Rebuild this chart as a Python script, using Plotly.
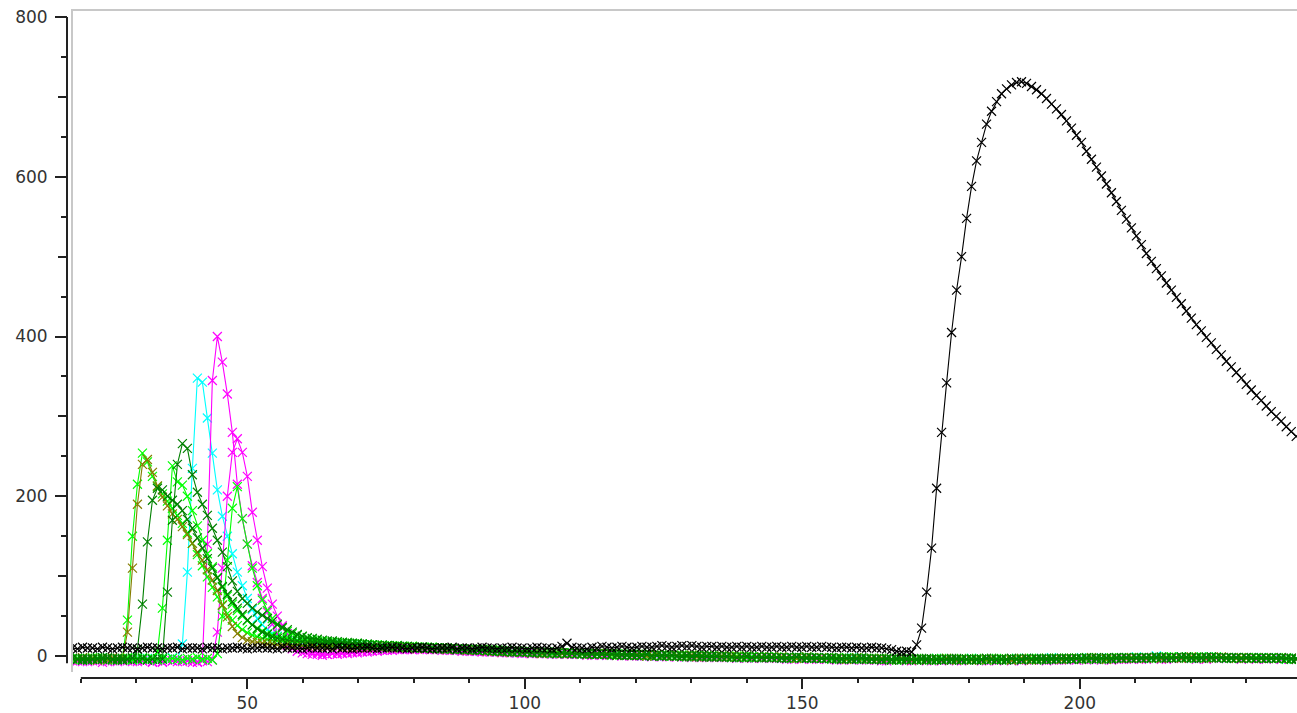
import plotly.graph_objects as go

# ---- sample grid (acquisition times) ----
SAMPLE_START = 18.5
SAMPLE_STEP = 0.9
N_SAMPLES = 246
sample_x = [round(SAMPLE_START + SAMPLE_STEP * i, 2) for i in range(N_SAMPLES)]

# ---- series values ----
olive_head = [-3, -4, -2, -4, -3, -5, -3, -4, -2, -3, -4,
              30, 110, 190, 240, 246, 230, 213, 199, 188, 178, 171, 162, 152, 141, 130, 120, 108, 95, 82,
              64, 49, 37, 28, 23, 20, 18, 17, 16, 15, 15,
              14, 14, 15, 13, 14, 13, 13, 14, 12, 13, 12, 13, 12, 11, 12, 11, 11, 12, 10, 11]
olive_tail = [12, 11, 12, 10, 11, 11, 10, 11, 9, 10,
              10, 9, 9, 10, 8, 9, 8, 9, 7, 8,
              7, 8, 6, 7, 6, 5, 6, 5, 6, 5,
              5, 4, 5, 3, 4, 5, 4, 3, 4, 3,
              4, 3, 2, 3, 3, 2, 3, 2, 1, 2,
              2, 1, 2, 1, 0, 1, 2, 1, 0, 1,
              1, 0, 0, 1, -1, 0, 0, -1, 0, 0,
              -1, 0, -1, -1, 0, -2, -1, -1, -2, -1,
              -2, -1, -2, -2, -3, -2, -1, -2, -3, -2,
              -3, -2, -3, -3, -4, -3, -2, -3, -4, -3,
              -4, -3, -4, -5, -4, -3, -4, -5, -4, -4,
              -5, -4, -4, -5, -3, -4, -5, -4, -4, -5,
              -4, -5, -4, -3, -5, -4, -4, -5, -4, -3,
              -4, -5, -4, -4, -3, -4, -3, -4, -3, -3,
              -3, -4, -3, -2, -3, -3, -4, -3, -2, -3,
              -3, -2, -3, -2, -3, -2, -2, -3, -2, -2,
              -2, -3, -2, -1, -2, -2, -3, -2, -2, -1,
              -2, -2, -3, -2, -3, -2, -3, -3, -2, -3,
              -3, -2, -3, -3, -4]

lime1_head = [-4, -3, -5, -3, -4, -2, -4, -3, -5, -4, -3,
              45, 150, 215, 254, 243, 225, 212, 203, 194, 185, 176, 166, 154, 141, 127, 113, 99, 86, 74,
              63, 53, 45, 38, 33, 29, 26, 24, 22, 21, 20,
              19, 19, 18, 18, 17, 18, 17, 16, 17, 16, 16, 15, 16, 15, 14, 15, 14, 14, 13, 13]
lime1_tail = [13, 13, 12, 13, 12, 12, 11, 12, 11, 11,
              10, 11, 10, 10, 9, 10, 9, 9, 8, 9,
              8, 8, 7, 8, 7, 6, 7, 6, 6, 5,
              6, 5, 5, 4, 5, 4, 5, 4, 3, 4,
              4, 3, 3, 4, 2, 3, 3, 2, 3, 2,
              2, 1, 2, 2, 1, 1, 2, 0, 1, 1,
              0, 1, 0, 1, 0, -1, 0, 0, -1, 0,
              -1, -1, 0, -2, -1, -1, -2, -1, -1, -2,
              -2, -1, -2, -3, -2, -2, -1, -3, -2, -3,
              -3, -2, -3, -4, -3, -3, -2, -4, -3, -3,
              -4, -4, -3, -4, -5, -4, -3, -4, -4, -5,
              -4, -5, -3, -4, -4, -5, -4, -3, -5, -4,
              -5, -4, -4, -3, -4, -5, -4, -4, -3, -4,
              -4, -3, -5, -4, -3, -4, -4, -3, -4, -3,
              -3, -3, -4, -3, -2, -3, -4, -3, -3, -2,
              -3, -2, -2, -3, -2, -3, -2, -2, -1, -2,
              -2, -1, -2, -2, -3, -1, -2, -2, -1, -2,
              -2, -3, -2, -2, -3, -2, -2, -3, -3, -2,
              -3, -3, -2, -4, -3]

dgreen1_head = [-3, -4, -3, -5, -4, -3, -4, -2, -4, -3, -5, -4, -3,
                8, 65, 143, 195, 210, 208, 200, 195, 190, 182, 171, 160, 148, 135, 122, 110, 98,
                87, 77, 68, 60, 52, 45, 39, 34, 30, 27, 24,
                22, 21, 20, 19, 19, 18, 17, 18, 17, 16, 16, 17, 15, 16, 15, 14, 15, 14, 13, 14]
dgreen1_tail = [13, 12, 13, 12, 12, 11, 12, 11, 10, 11,
                10, 10, 9, 10, 9, 9, 8, 9, 8, 8,
                7, 8, 7, 7, 6, 6, 7, 5, 6, 5,
                5, 5, 4, 5, 4, 4, 3, 4, 4, 3,
                3, 4, 3, 2, 3, 2, 2, 3, 1, 2,
                1, 2, 1, 1, 2, 0, 1, 1, 0, 1,
                0, 0, 1, -1, 0, 0, -1, 0, -1, -1,
                0, -1, -2, -1, -1, -2, -1, -2, -2, -1,
                -2, -2, -3, -2, -1, -2, -3, -2, -3, -3,
                -2, -3, -4, -3, -3, -4, -3, -2, -4, -4,
                -3, -5, -4, -4, -3, -4, -5, -4, -4, -3,
                -5, -4, -4, -5, -4, -3, -4, -5, -4, -4,
                -4, -5, -3, -4, -4, -4, -5, -3, -4, -5,
                -3, -4, -4, -3, -5, -3, -4, -3, -3, -4,
                -3, -4, -3, -3, -2, -3, -3, -4, -2, -3,
                -2, -3, -3, -2, -2, -3, -2, -1, -2, -3,
                -2, -2, -1, -3, -2, -2, -1, -2, -2, -2,
                -3, -2, -2, -3, -2, -3, -3, -2, -3, -3,
                -2, -3, -3, -3, -4]

lime2_head = [-4, -3, -4, -5, -3, -4, -2, -4, -3, -4, -5, -3, -4, -3, -2, -4, -3,
              5, 60, 145, 238, 218, 214, 200, 182, 163, 145, 128, 112, 98,
              86, 75, 65, 57, 50, 44, 39, 35, 31, 28, 26,
              24, 23, 22, 21, 20, 20, 19, 19, 18, 18, 17, 17, 16, 17, 16, 15, 16, 15, 14, 14]
lime2_tail = [14, 13, 13, 12, 13, 12, 11, 12, 11, 10,
              11, 10, 10, 9, 10, 9, 8, 9, 8, 8,
              7, 8, 7, 6, 7, 6, 6, 5, 6, 5,
              5, 4, 5, 4, 5, 4, 3, 4, 4, 3,
              3, 3, 2, 3, 3, 2, 2, 2, 1, 2,
              2, 1, 1, 2, 1, 0, 1, 1, 1, 0,
              1, 0, 0, -1, 0, 1, -1, 0, 0, -1,
              -1, 0, -1, -1, -2, -1, -1, -2, -1, -2,
              -1, -2, -2, -3, -2, -2, -3, -2, -2, -3,
              -3, -3, -2, -3, -4, -3, -3, -4, -3, -4,
              -4, -3, -4, -4, -5, -3, -4, -4, -5, -4,
              -4, -4, -5, -4, -3, -4, -5, -4, -4, -5,
              -3, -4, -5, -4, -4, -3, -4, -5, -4, -3,
              -4, -4, -3, -4, -4, -3, -3, -4, -3, -4,
              -3, -3, -2, -3, -3, -4, -3, -2, -3, -3,
              -2, -3, -2, -2, -3, -2, -2, -3, -2, -1,
              -2, -2, -3, -2, -1, -2, -2, -3, -2, -2,
              -3, -2, -3, -2, -2, -3, -2, -3, -3, -2,
              -3, -3, -4, -3, -3]

dgreen2_head = [-3, -4, -5, -3, -4, -4, -2, -3, -4, -5, -3, -4, -2, -4, -3, -5, -4, -3, -4,
                80, 170, 240, 266, 260, 227, 205, 190, 176, 160, 145,
                130, 112, 94, 81, 72, 66, 60, 55, 51, 47, 43,
                39, 36, 33, 30, 27, 25, 23, 22, 21, 20, 19, 19, 18, 17, 17, 16, 16, 15, 15, 14]
dgreen2_tail = [13, 14, 13, 12, 13, 12, 12, 11, 11, 10,
                11, 10, 9, 10, 9, 9, 8, 8, 9, 7,
                8, 7, 7, 6, 7, 6, 5, 6, 5, 6,
                5, 4, 5, 4, 4, 5, 3, 4, 3, 4,
                3, 3, 2, 3, 2, 3, 2, 2, 2, 1,
                2, 1, 1, 1, 2, 0, 1, 0, 1, 1,
                0, -1, 0, 0, 1, -1, 0, -1, 0, -1,
                -1, -1, -2, -1, 0, -2, -1, -2, -1, -2,
                -2, -3, -2, -2, -1, -3, -2, -3, -2, -3,
                -3, -2, -3, -4, -3, -3, -4, -3, -3, -4,
                -4, -4, -3, -5, -4, -4, -3, -4, -5, -4,
                -3, -4, -5, -4, -4, -5, -3, -4, -4, -4,
                -5, -4, -3, -4, -5, -4, -4, -3, -4, -4,
                -3, -4, -3, -4, -3, -4, -3, -3, -4, -3,
                -3, -3, -2, -3, -4, -3, -2, -3, -3, -2,
                -2, -3, -2, -3, -2, -2, -1, -2, -3, -2,
                -2, -1, -2, -2, -2, -3, -2, -1, -2, -2,
                -2, -3, -2, -3, -2, -2, -3, -3, -2, -3,
                -3, -2, -3, -4, -3]

cyan_head = [-4, -3, -5, -4, -3, -4, -2, -5, -3, -4, -4, -3, -5, -2, -4, -3, -4, -5, -3, -4, -2, -4,
             15, 105, 235, 348, 343, 298, 254, 208,
             175, 150, 128, 105, 88, 72, 58, 47, 39, 33, 28,
             25, 22, 20, 19, 18, 17, 17, 16, 16, 15, 16, 15, 14, 15, 14, 13, 14, 13, 12, 13]
cyan_tail = [12, 12, 11, 12, 11, 10, 11, 10, 10, 9,
             10, 9, 9, 8, 9, 8, 7, 8, 7, 7,
             6, 7, 6, 6, 5, 6, 5, 5, 4, 5,
             4, 5, 4, 4, 3, 4, 3, 4, 3, 3,
             2, 3, 3, 2, 2, 3, 1, 2, 2, 1,
             1, 2, 1, 0, 1, 1, 0, 1, 0, 0,
             1, 0, -1, 0, 0, -1, 0, -1, -1, 0,
             -1, -2, -1, -1, -2, -1, -2, -1, -2, -2,
             -2, -3, -2, -2, -3, -2, -1, -3, -2, -3,
             -3, -2, -4, -3, -3, -2, -4, -3, -4, -3,
             -4, -3, -4, -5, -4, -3, -4, -5, -4, -4,
             -5, -4, -3, -4, -5, -4, -4, -5, -4, -3,
             -4, -5, -4, -3, -4, -4, -5, -4, -3, -4,
             -3, -4, -4, -3, -4, -2, -4, -3, -3, -4,
             -3, -2, -3, -3, -4, -2, -3, -3, -2, -3,
             -2, -3, -1, -2, -2, -3, 0, -2, -1, -2,
             -2, -1, -2, -3, -2, -1, -2, -2, -1, -2,
             -3, -2, -2, -3, -3, -2, -3, -2, -3, -3,
             -2, -3, -4, -3, -3]

magenta1_head = [-5, -6, -4, -7, -5, -6, -5, -7, -6, -5, -4, -6, -7, -5, -6, -5, -7, -6, -8, -5, -6, -7, -5, -6, -8, -7, -5,
                 140, 345, 400, 368, 328, 280, 215, 172, 140, 113, 92, 72, 55, 40,
                 28, 19, 13, 9, 6, 4, 3, 2, 2, 1, 2, 3, 2, 4, 3, 5, 4, 6, 5, 7]
magenta1_tail = [7, 8, 7, 8, 9, 8, 9, 8, 9, 8,
                 8, 9, 8, 8, 7, 8, 7, 7, 6, 7,
                 6, 6, 5, 6, 5, 5, 4, 5, 4, 4,
                 4, 3, 4, 3, 3, 4, 2, 3, 3, 2,
                 2, 3, 2, 1, 2, 2, 1, 2, 1, 1,
                 1, 0, 1, 1, 0, 0, 1, -1, 0, 0,
                 -1, 0, -1, 0, -1, -2, -1, -1, 0, -2,
                 -1, -2, -2, -1, -3, -2, -2, -3, -2, -2,
                 -3, -3, -2, -4, -3, -3, -2, -4, -3, -3,
                 -4, -3, -4, -5, -3, -4, -4, -5, -4, -4,
                 -5, -4, -6, -4, -5, -5, -4, -6, -5, -4,
                 -5, -6, -4, -5, -5, -4, -6, -5, -5, -4,
                 -5, -4, -6, -5, -4, -5, -5, -6, -4, -5,
                 -4, -5, -5, -4, -6, -4, -5, -4, -5, -4,
                 -4, -3, -5, -4, -4, -3, -4, -5, -3, -4,
                 -3, -4, -3, -3, -4, -2, -3, -4, -3, -3,
                 -2, -3, -3, -2, -4, -3, -2, -3, -3, -2,
                 -3, -3, -2, -4, -3, -3, -2, -3, -4, -3,
                 -3, -4, -3, -3, -4]

lime3_head = [-4, -3, -5, -4, -2, -4, -3, -5, -4, -3, -4, -2, -5, -3, -4, -4, -3, -5, -2, -4, -3, -4, -5, -3, -4, -2, -4, -3, -5, 3,
              50, 120, 185, 212, 172, 140, 110, 88, 70, 57, 47,
              40, 35, 31, 28, 26, 24, 22, 21, 20, 19, 18, 18, 17, 17, 16, 16, 15, 15, 14, 14]
lime3_tail = [14, 13, 13, 12, 13, 12, 11, 12, 11, 11,
              10, 11, 10, 9, 10, 9, 9, 8, 9, 8,
              7, 8, 7, 7, 6, 7, 6, 5, 6, 5,
              5, 5, 4, 5, 4, 3, 4, 4, 3, 4,
              3, 2, 3, 3, 2, 2, 3, 1, 2, 2,
              1, 2, 1, 1, 0, 1, 1, 0, 1, 0,
              0, 1, -1, 0, 0, -1, 0, -1, 0, -1,
              -1, -2, -1, -1, -2, -1, -2, -2, -1, -2,
              -2, -2, -3, -2, -3, -2, -2, -3, -3, -2,
              -3, -4, -3, -3, -2, -4, -3, -3, -4, -3,
              -4, -3, -4, -4, -3, -5, -4, -4, -3, -4,
              -4, -5, -4, -3, -4, -4, -5, -4, -4, -3,
              -4, -4, -5, -4, -3, -4, -4, -5, -4, -4,
              -4, -3, -4, -4, -3, -4, -3, -4, -3, -3,
              -3, -4, -3, -2, -3, -3, -4, -3, -2, -3,
              -3, -2, -2, -3, -2, -2, -3, -2, -2, -1,
              -2, -2, -1, -2, -3, -2, -2, -1, -2, -2,
              -2, -3, -2, -3, -2, -3, -2, -2, -3, -3,
              -3, -2, -3, -3, -4]

magenta2_head = [-6, -5, -7, -4, -6, -5, -8, -6, -5, -7, -6, -4, -5, -7, -6, -5, -8, -6, -7, -5, -6, -4, -7, -6, -5, -8, -6, -7, -5,
                 30, 110, 200, 255, 272, 255, 225, 180, 145, 112, 85, 65,
                 50, 38, 28, 20, 14, 10, 7, 5, 4, 3, 2, 3, 4, 3, 5, 4, 6, 5, 7, 6]
magenta2_tail = [6, 7, 8, 7, 8, 9, 8, 8, 9, 8,
                 9, 8, 8, 7, 8, 7, 7, 6, 7, 6,
                 6, 5, 6, 5, 5, 4, 5, 4, 4, 3,
                 4, 3, 3, 4, 3, 2, 3, 3, 2, 2,
                 3, 2, 1, 2, 2, 1, 1, 2, 1, 0,
                 1, 1, 0, 0, 1, -1, 0, 0, -1, 0,
                 -1, -1, 0, -2, -1, -1, -2, -1, -2, -1,
                 -2, -2, -3, -2, -2, -3, -2, -3, -2, -3,
                 -3, -2, -4, -3, -3, -4, -3, -3, -4, -3,
                 -4, -4, -5, -3, -4, -5, -4, -4, -5, -4,
                 -5, -6, -4, -5, -5, -4, -6, -5, -4, -5,
                 -6, -5, -4, -6, -5, -5, -4, -6, -5, -5,
                 -4, -6, -5, -5, -6, -4, -5, -5, -4, -6,
                 -5, -4, -5, -5, -4, -5, -4, -5, -4, -4,
                 -5, -4, -3, -4, -4, -5, -3, -4, -4, -3,
                 -4, -3, -3, -4, -3, -2, -3, -3, -4, -2,
                 -3, -3, -2, -3, -3, -2, -4, -3, -2, -3,
                 -3, -2, -3, -3, -2, -3, -4, -3, -3, -2,
                 -3, -4, -3, -3, -4]

black_base = [10, 9, 11, 10, 10, 9, 11, 10, 9, 10,
              11, 10, 10, 9, 10, 11, 10, 10, 9, 10,
              10, 11, 9, 10, 10, 10, 9, 11, 10, 10,
              9, 10, 10, 11, 10, 9, 10, 10, 11, 10,
              10, 9, 11, 10, 10, 10, 9, 10, 11, 10,
              10, 10, 9, 11, 10, 10, 9, 10, 10, 11,
              10, 9, 10, 10, 11, 10, 10, 9, 10, 10,
              11, 10, 9, 10, 10, 10, 11, 9, 10, 10,
              9, 10, 11, 10, 10, 9, 10, 10, 11, 10,
              10, 9, 10, 11, 10, 10, 9, 10, 12, 16,
              11, 10, 10, 9, 11, 10, 12, 11, 10, 11,
              12, 11, 10, 11, 12, 11, 11, 12, 13, 12,
              11, 12, 13, 12, 13, 12, 11, 12, 12, 11,
              12, 11, 11, 12, 11, 12, 11, 11, 12, 11,
              11, 12, 11, 11, 12, 11, 11, 12, 11, 11,
              12, 11, 11, 10, 11, 11, 10, 11, 10, 10,
              11, 10, 10, 9, 8, 6, 5, 6, 5]
black_peak = [14, 35, 80, 135, 210, 280, 342, 405, 458, 500, 548, 588, 620, 643, 666, 682, 694, 704, 710, 715,
              718, 719, 717, 713, 709,
              704, 698, 691, 685, 678, 670, 661, 652, 643, 632,
              622, 612, 601, 591, 580, 569, 558, 547, 536, 526,
              515, 504, 494, 485, 476, 467, 458, 449, 441, 432,
              423, 415, 407, 399, 392, 384, 377, 369, 362, 355,
              348, 340, 333, 326, 320, 313, 306, 300, 294, 287,
              281, 275]

series = [
    ("cyan", cyan_head + cyan_tail, "#00ffff"),
    ("magenta 1", magenta1_head + magenta1_tail, "#ff00ff"),
    ("magenta 2", magenta2_head + magenta2_tail, "#ff00ff"),
    ("lime 3", lime3_head + lime3_tail, "#00ff00"),
    ("lime 2", lime2_head + lime2_tail, "#00ff00"),
    ("lime 1", lime1_head + lime1_tail, "#00ff00"),
    ("olive", olive_head + olive_tail, "#857d00"),
    ("dark green 2", dgreen2_head + dgreen2_tail, "#008000"),
    ("dark green 1", dgreen1_head + dgreen1_tail, "#008000"),
    ("black", black_base + black_peak, "#000000"),
]

X_RANGE = [18.23, 239.14]
Y_RANGE = [-20.0, 808.8]
Y_MID_TICKS = [100, 300, 500, 700]
TICK_FONT = dict(family="DejaVu Sans", size=17, color="#333333")
AXIS_COLOR = "#222222"
BORDER = "#c8c8c8"

fig = go.Figure()
for name, ys, col in series:
    n = min(len(ys), len(sample_x))
    fig.add_trace(go.Scatter(
        x=sample_x[:n], y=ys[:n], name=name, mode="lines+markers",
        line=dict(color=col, width=1.1),
        marker=dict(symbol="x-thin", size=9, color=col, line=dict(color=col, width=1.2)),
        hoverinfo="skip", showlegend=False,
    ))
# carrier for the secondary tick axis
fig.add_trace(go.Scatter(x=[None], y=[None], xaxis="x", yaxis="y2", showlegend=False, hoverinfo="skip"))

W, H = 1297, 713
ML, MR, MT, MB = 67, 0, 10, 35
pw = W - ML - MR
ph = H - MT - MB
xdom0 = 4 / pw
ydom0 = 6 / ph

fig.update_layout(
    width=W, height=H,
    margin=dict(l=ML, r=MR, t=MT, b=MB, pad=0),
    paper_bgcolor="white", plot_bgcolor="white",
    showlegend=False,
    xaxis=dict(
        domain=[xdom0, 1], range=X_RANGE, anchor="free", position=0,
        showgrid=False, zeroline=False, showline=False,
        tickmode="linear", tick0=0, dtick=50,
        ticks="outside", ticklen=10, tickwidth=1.5, tickcolor=AXIS_COLOR,
        tickfont=TICK_FONT,
        minor=dict(tickmode="linear", tick0=0, dtick=10, ticks="outside", ticklen=4,
                   tickwidth=1.5, tickcolor=AXIS_COLOR, showgrid=False),
    ),
    yaxis=dict(
        domain=[ydom0, 1], range=Y_RANGE, anchor="free", position=0,
        showgrid=False, zeroline=False, showline=False,
        tickmode="linear", tick0=0, dtick=200,
        ticks="outside", ticklen=12, tickwidth=1.5, tickcolor=AXIS_COLOR,
        tickfont=TICK_FONT, ticklabelstandoff=4,
        minor=dict(tickmode="linear", tick0=0, dtick=50, ticks="outside", ticklen=6,
                   tickwidth=1.5, tickcolor=AXIS_COLOR, showgrid=False),
    ),
    yaxis2=dict(
        overlaying="y", range=Y_RANGE, anchor="free", position=0,
        showgrid=False, zeroline=False, showline=False,
        tickmode="array", tickvals=Y_MID_TICKS, showticklabels=False,
        ticks="outside", ticklen=9, tickwidth=1.5, tickcolor=AXIS_COLOR,
    ),
)

shapes = [
    # gray frame: top and left
    dict(type="line", xref="paper", yref="paper", x0=xdom0, x1=1, y0=1, y1=1,
         line=dict(color=BORDER, width=2)),
    dict(type="line", xref="paper", yref="paper", x0=xdom0 + 1 / pw, x1=xdom0 + 1 / pw, y0=ydom0, y1=1,
         line=dict(color=BORDER, width=2)),
    # axis lines spanning the tick range
    dict(type="line", xref="x", yref="paper", x0=20, x1=X_RANGE[1] + 5, y0=0, y1=0,
         line=dict(color=AXIS_COLOR, width=2)),
    dict(type="line", xref="paper", yref="y", x0=0, x1=0, y0=-9, y1=800,
         line=dict(color=AXIS_COLOR, width=2)),
]
fig.update_layout(shapes=shapes)

fig.write_html("out.html")
